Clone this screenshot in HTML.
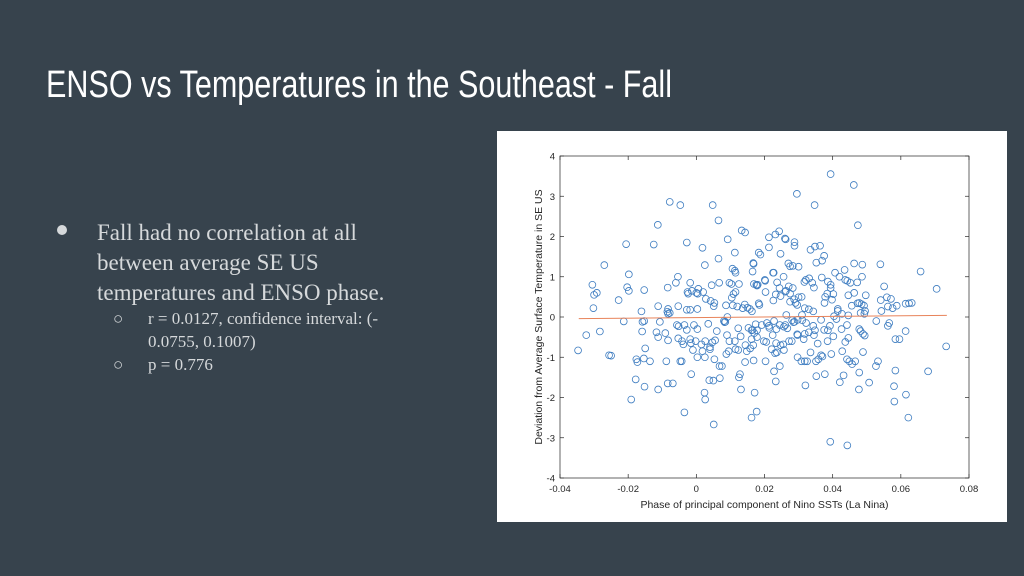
<!DOCTYPE html>
<html><head><meta charset="utf-8"><style>
html,body{margin:0;padding:0}
body{width:1024px;height:576px;background:#37434d;position:relative;overflow:hidden;font-family:"Liberation Serif",serif}
.t{position:absolute;color:#d6d9db;white-space:nowrap}
</style></head><body>
<svg style="position:absolute;left:0;top:0" width="700" height="120">
<text x="46" y="97" textLength="626" lengthAdjust="spacingAndGlyphs" font-family="'Liberation Sans Narrow','Liberation Sans',sans-serif" font-size="38" fill="#ffffff">ENSO vs Temperatures in the Southeast - Fall</text></svg>
<div>
<div class="t" style="left:57px;top:225px;width:10px;height:10px;border-radius:50%;background:#d6d9db"></div>
<div class="t" style="left:97px;top:218px;font-size:23px;line-height:30px">Fall had no correlation at all<br>between average SE US<br>temperatures and ENSO phase.</div>
<div class="t" style="left:113px;top:307px;font-size:17px;line-height:23px">○</div>
<div class="t" style="left:148px;top:307px;font-size:17px;line-height:23px">r = 0.0127, confidence interval: (-<br>0.0755, 0.1007)</div>
<div class="t" style="left:113px;top:353px;font-size:17px;line-height:23px">○</div>
<div class="t" style="left:148px;top:353px;font-size:17px;line-height:23px">p = 0.776</div>
</div>
<svg id="chart" style="position:absolute;left:497px;top:131px" width="510" height="391"></svg>
<script>
const xTicks=[-0.04,-0.02,0,0.02,0.04,0.06,0.08];
const xTickLabels=["-0.04","-0.02","0","0.02","0.04","0.06","0.08"];
const yTicks=[-4,-3,-2,-1,0,1,2,3,4];
const yTickLabels=["-4","-3","-2","-1","0","1","2","3","4"];
const fitX=[-0.0345,0.0735];
const fitY=[-0.04,0.04];
const ptsX=[0.0394,0.0462,0.0295,0.0347,0.0048,-0.0078,-0.0047,0.0474,0.0065,-0.0113,0.0133,0.0143,0.0243,0.0232,0.0213,0.026,0.0262,0.0288,0.0288,0.0335,0.0348,0.0363,0.0092,-0.0028,-0.0125,-0.0206,0.0018,0.0213,0.0183,0.0188,0.0247,0.0113,0.0065,0.0375,0.0369,0.0352,0.0167,0.0168,0.027,0.0275,0.0283,0.03,0.0025,-0.027,0.0463,0.0487,0.054,0.0658,0.0705,0.0106,0.0113,0.0115,0.0225,0.0227,0.0165,0.0407,0.0435,0.042,0.0437,0.0452,0.0443,0.0486,0.0472,-0.0198,-0.0054,0.0256,0.0201,0.0202,0.0321,0.0331,0.034,0.0317,0.0345,0.0368,0.0386,0.0394,0.0394,0.0103,0.0097,0.0125,0.0169,0.0176,0.018,0.0178,0.0237,0.0271,0.0283,-0.0018,0.0006,0.0,0.0004,0.002,-0.0013,-0.006,-0.0084,-0.0203,-0.0198,-0.0305,-0.03,-0.0292,-0.0302,-0.0228,-0.0153,0.0045,0.0067,0.0087,0.0109,0.0115,0.0104,0.012,0.0136,0.0142,0.015,0.0157,0.0163,0.0183,0.0185,0.0203,0.0226,0.0233,0.0244,0.0247,0.0261,0.0263,0.0275,0.0287,0.0275,0.0296,0.03,0.0309,0.0291,0.0318,0.033,0.0343,0.0376,0.0378,0.0384,0.0398,0.0402,0.0415,0.0415,0.0446,0.0463,0.0473,0.0478,0.0497,0.0485,0.0492,0.0541,0.0551,0.0559,0.0571,0.0562,0.0576,0.0588,0.0614,0.0624,0.0632,0.0543,0.0495,0.0493,0.0482,0.0456,0.0446,0.0427,0.0404,0.0411,-0.0083,-0.0085,-0.0078,-0.0083,-0.0053,-0.0026,-0.0024,-0.0028,-0.0018,0.0003,0.0028,0.0042,0.0053,0.0051,-0.0112,-0.0161,-0.0213,-0.0158,-0.0153,-0.0107,-0.0057,-0.0052,-0.0035,-0.0028,-0.0007,0.0003,0.0035,0.0083,0.0085,0.0081,0.0091,0.0123,0.0153,0.0162,0.0165,0.0174,0.0178,0.0192,0.0207,0.0214,0.0213,0.0228,0.0235,0.0245,0.0257,0.0261,0.0267,0.0285,0.0288,0.0281,0.0297,0.0311,0.0322,0.0343,0.0348,0.0366,0.0375,0.0386,0.0392,0.0426,0.0442,0.0478,0.0482,0.0489,0.0494,0.0562,0.0566,0.0528,0.0614,-0.0323,-0.0283,-0.0159,-0.0117,-0.0112,-0.0091,-0.0083,-0.0053,-0.0042,-0.0038,-0.0018,-0.0016,-0.0002,0.0015,0.0026,0.004,0.0047,0.0055,0.009,0.0097,0.0113,0.013,0.0144,0.0162,0.0167,0.0178,0.0198,0.0205,0.0224,0.0234,0.0247,0.0255,0.0272,0.028,0.0297,0.0315,0.0318,0.033,0.0345,0.0356,0.0385,0.0402,0.0437,0.0446,0.0584,0.0596,-0.0347,-0.0256,-0.025,-0.0176,-0.0173,-0.0154,-0.0136,-0.015,-0.0088,-0.0047,-0.0043,-0.001,0.0003,0.0018,0.0025,0.004,0.0053,0.0068,0.0075,0.0088,0.0095,0.0115,0.0123,0.0143,0.0148,0.0158,0.0168,0.0203,0.0221,0.0231,0.0236,0.0245,0.0257,0.0297,0.0308,0.0318,0.0325,0.0335,0.0351,0.0358,0.0366,0.037,0.0396,0.0428,0.0442,0.0449,0.0457,0.0466,0.0489,0.0533,0.0527,0.0733,0.068,0.0584,0.058,0.0581,0.0615,0.0622,0.0507,0.0477,0.0478,0.0421,0.0432,0.0377,0.0352,0.032,0.0233,0.0228,0.0171,0.0177,0.0162,0.0128,0.0125,0.0131,0.0069,0.005,0.0038,0.0024,0.0026,0.0051,-0.0035,-0.0015,-0.0069,-0.0084,-0.0112,-0.0152,-0.0178,-0.0191,0.0393,0.0443,0.0296,0.0264,0.0107,0.006,0.017,0.031];
const ptsY=[3.55,3.28,3.06,2.78,2.78,2.86,2.78,2.28,2.4,2.29,2.15,2.1,2.13,2.05,1.98,1.95,1.93,1.86,1.77,1.67,1.75,1.77,1.93,1.85,1.8,1.81,1.72,1.73,1.6,1.55,1.57,1.6,1.45,1.52,1.4,1.35,1.34,1.32,1.33,1.26,1.27,1.25,1.29,1.29,1.33,1.3,1.31,1.13,0.7,1.2,1.15,1.1,1.1,1.1,1.13,1.1,1.17,1.0,0.92,0.85,0.9,1.0,0.86,1.06,1.0,1.0,0.92,0.9,0.92,0.96,0.85,0.87,0.73,0.98,0.88,0.8,0.72,0.82,0.85,0.82,0.82,0.8,0.8,0.78,0.86,0.76,0.72,0.85,0.7,0.6,0.58,0.62,0.65,0.85,0.73,0.74,0.65,0.8,0.55,0.6,0.22,0.42,0.67,0.79,0.85,0.29,0.57,0.62,0.48,0.26,0.22,0.31,0.23,0.2,0.14,0.34,0.3,0.62,0.41,0.56,0.72,0.52,0.63,0.65,0.58,0.44,0.38,0.3,0.49,0.5,0.35,0.22,0.19,0.14,0.35,0.5,0.58,0.43,0.57,0.15,0.2,0.54,0.6,0.34,0.35,0.54,0.32,0.28,0.42,0.76,0.49,0.45,0.26,0.22,0.28,0.33,0.34,0.35,0.15,0.15,0.08,0.1,0.28,0.04,0.08,0.02,-0.05,0.2,0.13,0.1,0.08,0.27,0.62,0.58,0.18,0.18,0.2,0.45,0.4,0.35,0.27,0.27,0.14,-0.11,-0.12,-0.1,-0.12,-0.2,-0.23,-0.2,-0.32,-0.2,-0.3,-0.17,-0.13,-0.12,-0.1,0.0,-0.28,-0.27,-0.33,-0.32,-0.18,-0.33,-0.2,-0.15,-0.27,-0.22,-0.1,-0.3,-0.2,-0.24,-0.2,-0.28,-0.13,-0.12,-0.08,-0.07,-0.08,-0.15,-0.22,-0.33,-0.07,-0.32,-0.33,-0.22,-0.3,-0.2,-0.3,-0.35,-0.42,-0.46,-0.22,-0.15,-0.1,-0.35,-0.45,-0.36,-0.36,-0.38,-0.5,-0.4,-0.58,-0.53,-0.6,-0.68,-0.55,-0.65,-0.6,-0.68,-0.6,-0.75,-0.63,-0.58,-0.45,-0.6,-0.6,-0.48,-0.7,-0.55,-0.7,-0.5,-0.6,-0.62,-0.45,-0.65,-0.7,-0.68,-0.6,-0.6,-0.45,-0.55,-0.42,-0.38,-0.45,-0.66,-0.6,-0.48,-0.62,-0.52,-0.55,-0.55,-0.83,-0.95,-0.96,-1.05,-1.12,-1.03,-1.1,-0.78,-1.1,-1.1,-1.1,-0.82,-1.0,-0.85,-1.0,-0.8,-1.05,-1.22,-1.22,-0.92,-0.85,-0.8,-0.82,-1.12,-0.85,-0.78,-1.08,-1.1,-0.8,-0.9,-0.88,-1.22,-0.82,-1.0,-1.1,-1.1,-1.1,-0.88,-1.1,-1.05,-0.95,-0.98,-0.92,-0.85,-1.05,-1.1,-1.17,-1.1,-0.87,-1.1,-1.22,-0.73,-1.35,-1.33,-1.72,-2.1,-1.93,-2.5,-1.63,-1.8,-1.38,-1.62,-1.45,-1.42,-1.47,-1.7,-1.6,-1.35,-1.88,-2.35,-2.5,-1.42,-1.5,-1.8,-1.52,-1.58,-1.57,-1.88,-2.05,-2.67,-2.37,-1.42,-1.65,-1.65,-1.8,-1.73,-1.55,-2.05,-3.1,-3.19,-0.43,0.05,0.29,-0.35,-0.4,0.05];
const NS="http://www.w3.org/2000/svg";
const svg=document.getElementById('chart');
const L=63,R=472,T=25,B=347;
const xS=v=>L+(v-(-0.04))/0.12*(R-L);
const yS=v=>B-(v-(-4))/8*(B-T);
function mk(tag,attrs){const e=document.createElementNS(NS,tag);for(const k in attrs)e.setAttribute(k,attrs[k]);svg.appendChild(e);return e;}
const bg=mk('rect',{x:0,y:0,width:510,height:391,fill:'#ffffff'});


const box=mk('rect',{x:L,y:T,width:R-L,height:B-T,fill:'none',stroke:'#262626','stroke-width':0.7});


xTicks.forEach((t,i)=>{
 const x=xS(t);
 const tk=mk('line',{x1:x,x2:x,y1:B,y2:B-4,stroke:'#262626','stroke-width':0.7});
 
 
 const tk2=mk('line',{x1:x,x2:x,y1:T,y2:T+4,stroke:'#262626','stroke-width':0.7});
 
 
 const lb=mk('text',{x:x,y:B+14,'text-anchor':'middle','font-size':9.5,'font-family':'Liberation Sans,sans-serif',fill:'#262626'});
 lb.textContent=xTickLabels[i];
 
 
});
yTicks.forEach((t,i)=>{
 const y=yS(t);
 const tk=mk('line',{x1:L,x2:L+4,y1:y,y2:y,stroke:'#262626','stroke-width':0.7});
 
 
 const tk2=mk('line',{x1:R,x2:R-4,y1:y,y2:y,stroke:'#262626','stroke-width':0.7});
 
 
 const lb=mk('text',{x:L-5,y:y+3.5,'text-anchor':'end','font-size':9.5,'font-family':'Liberation Sans,sans-serif',fill:'#262626'});
 lb.textContent=yTickLabels[i];
 
 
});
const xt=mk('text',{x:(L+R)/2,y:B+30,'text-anchor':'middle','font-size':10.5,'font-family':'Liberation Sans,sans-serif',fill:'#262626'});
xt.textContent='Phase of principal component of Nino SSTs (La Nina)';


const yt=mk('text',{x:0,y:0,'text-anchor':'middle','font-size':10.5,'font-family':'Liberation Sans,sans-serif',fill:'#262626',transform:`translate(45,${(T+B)/2}) rotate(-90)`});
yt.textContent='Deviation from Average Surface Temperature in SE US';


ptsX.forEach((v,i)=>{
 const c=mk('circle',{cx:xS(v),cy:yS(ptsY[i]),r:3.4,fill:'none',stroke:'#3d7cc0','stroke-width':0.8});
 
 
});
const fl=mk('line',{x1:xS(fitX[0]),y1:yS(fitY[0]),x2:xS(fitX[1]),y2:yS(fitY[1]),stroke:'#e8835a','stroke-width':1});


</script>
</body></html>
